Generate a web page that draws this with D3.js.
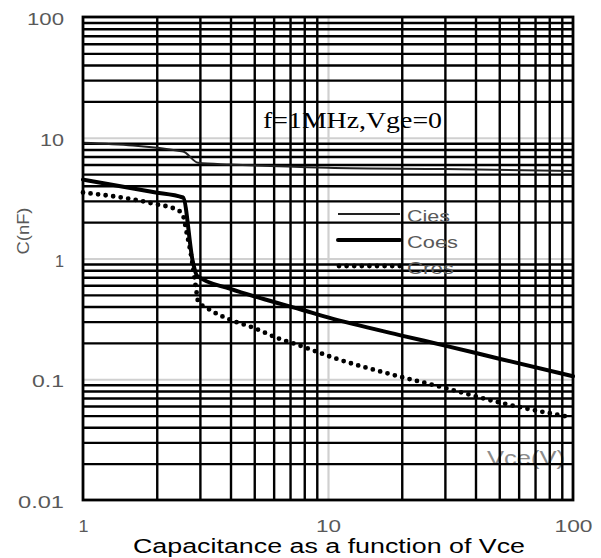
<!DOCTYPE html>
<html><head><meta charset="utf-8">
<script src="https://cdn.jsdelivr.net/npm/d3@7"></script>
<style>body{margin:0;background:#fff;} svg{display:block;}</style>
</head><body>
<svg id="chart" width="601" height="558"></svg>
<script>
// ---- data ----
const xTicks = [1, 10, 100];
const xTickLabels = ["1", "10", "100"];
const yTicks = [0.01, 0.1, 1, 10, 100];
const yTickLabels = ["0.01", "0.1", "1", "10", "100"];
const seriesNames = ["Cies", "Coes", "Cres"];

const vCies = [1, 2.56, 2.95, 4, 10, 30, 100];
const cCies = [9.1, 7.7, 6.2, 6.0, 5.65, 5.5, 5.3];

const vCoes = [1, 1.93, 2.56, 2.81, 2.92, 4, 5.5, 7.7, 10, 20, 30, 50, 100];
const cCoes = [4.5, 3.55, 3.2, 0.93, 0.72, 0.56, 0.46, 0.38, 0.325, 0.23, 0.19, 0.148, 0.106];

const vCres = [1, 1.93, 2.45, 2.56, 2.65, 2.72, 2.78, 2.87, 2.91, 2.95, 3.2, 4, 4.94, 6.2, 7.68, 10.5, 19.7, 29.5, 50.4, 95];
const cCres = [3.52, 2.85, 2.5, 2.27, 1.63, 1.26, 0.98, 0.63, 0.52, 0.44, 0.39, 0.31, 0.268, 0.22, 0.19, 0.151, 0.105, 0.0855, 0.064, 0.049];

const annotation = "f=1MHz,Vge=0";
const xTitle = "Capacitance as a function of Vce";
const yTitle = "C(nF)";
const xUnit = "Vce(V)";

// ---- layout ----
const L = 83, R = 573, T = 17, B = 500;
const svg = d3.select("#chart");
const x = d3.scaleLog().domain([1, 100]).range([L, R]);
const y = d3.scaleLog().domain([0.01, 100]).range([B, T]);

const minorX = [], minorY = [];
[1, 10].forEach(d => { for (let k = 2; k <= 9; k++) minorX.push(k * d); });
[0.01, 0.1, 1, 10].forEach(d => { for (let k = 2; k <= 9; k++) minorY.push(+(k * d).toPrecision(3)); });

// major gray gridlines
svg.append("g").attr("transform", `translate(0,${B})`)
  .call(d3.axisBottom(x).tickValues([10]).tickSize(-(B - T)).tickFormat(""))
  .call(g => g.select(".domain").remove())
  .call(g => g.selectAll("line").attr("stroke", "#d0d0d0").attr("stroke-width", 2.2));
svg.append("g").attr("transform", `translate(${L},0)`)
  .call(d3.axisLeft(y).tickValues([0.1, 1, 10]).tickSize(-(R - L)).tickFormat(""))
  .call(g => g.select(".domain").remove())
  .call(g => g.selectAll("line").attr("stroke", "#d0d0d0").attr("stroke-width", 2.2));

// text inside plot
const txt = svg.append("g");
txt.append("text").attr("x", 263).attr("y", 128)
  .attr("font-family", "'Liberation Serif','Times New Roman',serif").attr("font-size", 24)
  .attr("textLength", 179).attr("lengthAdjust", "spacingAndGlyphs")
  .attr("fill", "#000").text(annotation);
txt.append("text").attr("x", 487).attr("y", 465)
  .attr("font-family", "'Liberation Sans',Arial,sans-serif").attr("font-size", 21)
  .attr("textLength", 78).attr("lengthAdjust", "spacingAndGlyphs")
  .attr("fill", "#8c8c8c").text(xUnit);

// minor black gridlines
svg.append("g").attr("transform", `translate(0,${B})`)
  .call(d3.axisBottom(x).tickValues(minorX).tickSize(-(B - T)).tickFormat(""))
  .call(g => g.select(".domain").remove())
  .call(g => g.selectAll("line").attr("stroke", "#000").attr("stroke-width", 2.4));
svg.append("g").attr("transform", `translate(${L},0)`)
  .call(d3.axisLeft(y).tickValues(minorY).tickSize(-(R - L)).tickFormat(""))
  .call(g => g.select(".domain").remove())
  .call(g => g.selectAll("line").attr("stroke", "#000").attr("stroke-width", 2.4));

// legend
const legY = [214, 240, 266];
const legTextLen = [43, 51, 47];
const styles = [
  {w: 2, color: "#222", dash: null, cap: "butt"},
  {w: 4, color: "#000", dash: null, cap: "round"},
  {w: 4.8, color: "#000", dash: "0 7.6", cap: "round"}
];
const leg = svg.append("g");
seriesNames.forEach((n, i) => {
  leg.append("line").attr("x1", i === 2 ? 339 : 338).attr("x2", 400).attr("y1", legY[i]).attr("y2", legY[i])
    .attr("stroke", styles[i].color).attr("stroke-width", styles[i].w)
    .attr("stroke-linecap", styles[i].cap).attr("stroke-dasharray", styles[i].dash);
  leg.append("text").attr("x", 407).attr("y", legY[i] + 8)
    .attr("font-family", "'Liberation Sans',Arial,sans-serif").attr("font-size", 16.5)
    .attr("textLength", legTextLen[i]).attr("lengthAdjust", "spacingAndGlyphs")
    .attr("fill", "#595959").text(n);
});

// curves
const line = d3.line().x(d => x(d[0])).y(d => y(d[1])).curve(d3.curveMonotoneX);
const series = [
  d3.zip(vCies, cCies),
  d3.zip(vCoes, cCoes),
  d3.zip(vCres, cCres)
];
series.forEach((s, i) => {
  svg.append("path").datum(s).attr("d", line).attr("fill", "none")
    .attr("stroke", styles[i].color).attr("stroke-width", styles[i].w)
    .attr("stroke-linecap", styles[i].cap).attr("stroke-linejoin", "round")
    .attr("stroke-dasharray", styles[i].dash);
});

// border
svg.append("rect").attr("x", L).attr("y", T).attr("width", R - L).attr("height", B - T)
  .attr("fill", "none").attr("stroke", "#000").attr("stroke-width", 2.8);

// y tick labels
const yLen = {"0.01": 46, "0.1": 32, "1": 9, "10": 24, "100": 37};
svg.append("g").attr("transform", `translate(${L},0)`)
  .call(d3.axisLeft(y).tickValues(yTicks).tickSize(0).tickPadding(19)
    .tickFormat((d, i) => yTickLabels[i]))
  .call(g => g.select(".domain").remove())
  .call(g => g.selectAll("text")
    .attr("font-family", "'Liberation Sans',Arial,sans-serif").attr("font-size", 17)
    .attr("fill", "#595959").attr("dy", "0.45em")
    .attr("textLength", function() { return yLen[this.textContent]; })
    .attr("lengthAdjust", "spacingAndGlyphs"));

// x tick labels
const xLen = {"1": 10, "10": 25, "100": 38};
svg.append("g").attr("transform", `translate(0,${B})`)
  .call(d3.axisBottom(x).tickValues(xTicks).tickSize(0).tickPadding(20)
    .tickFormat((d, i) => xTickLabels[i]))
  .call(g => g.select(".domain").remove())
  .call(g => g.selectAll("text")
    .attr("font-family", "'Liberation Sans',Arial,sans-serif").attr("font-size", 17)
    .attr("fill", "#595959")
    .attr("textLength", function() { return xLen[this.textContent]; })
    .attr("lengthAdjust", "spacingAndGlyphs"));

// axis titles
svg.append("text").attr("x", 329).attr("y", 553).attr("text-anchor", "middle")
  .attr("font-family", "'Liberation Sans',Arial,sans-serif").attr("font-size", 19.5)
  .attr("textLength", 392).attr("lengthAdjust", "spacingAndGlyphs")
  .attr("fill", "#000").text(xTitle);
svg.append("text").attr("transform", "translate(29,231) rotate(-90)").attr("text-anchor", "middle")
  .attr("font-family", "'Liberation Sans',Arial,sans-serif").attr("font-size", 17)
  .attr("textLength", 47).attr("lengthAdjust", "spacingAndGlyphs")
  .attr("fill", "#595959").text(yTitle);
</script>
</body></html>
